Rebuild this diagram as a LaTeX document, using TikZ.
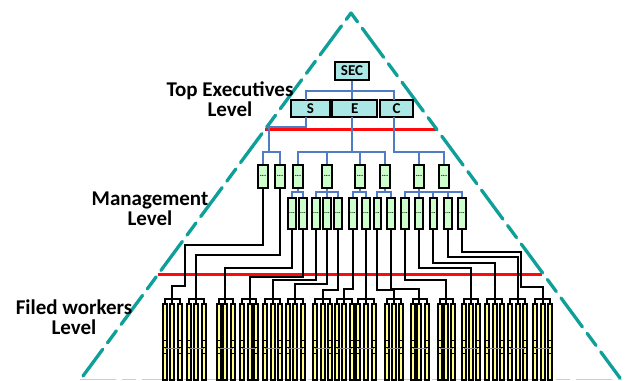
\documentclass[tikz,border=0pt]{standalone}
\usepackage{fontspec}
\setmainfont{Carlito}
\definecolor{tealline}{HTML}{0E9F98}
\definecolor{paleteal}{HTML}{A6DEDB}
\definecolor{bluelink}{HTML}{4F7CC4}
\definecolor{cyanbox}{HTML}{ABE8E5}
\definecolor{greenbox}{HTML}{CCFFCC}
\definecolor{yellowbar}{HTML}{FFFF88}
\definecolor{redline}{HTML}{FF0A0A}
\tikzset{
  x=1pt,y=-1pt,
  level label/.style={font=\fontsize{21}{20.5}\selectfont\bfseries,align=center,inner sep=0pt},
  exec box/.style={draw=black,line width=2pt,fill=cyanbox,inner sep=0pt,font=\fontsize{15}{15}\selectfont\bfseries},
  upper box/.style={draw=black,line width=2pt,fill=greenbox,inner sep=0pt,minimum height=23pt,font=\fontsize{8}{8}\selectfont\bfseries},
  lower box/.style={draw=black,line width=2pt,fill=greenbox,inner sep=0pt,minimum height=31pt,font=\fontsize{7}{7}\selectfont\bfseries},
  bar box/.style={draw=black,line width=1.9pt,fill=yellowbar,inner sep=0pt,minimum height=76pt},
  blue link/.style={draw=bluelink,line width=1.9pt},
  blue stem/.style={draw=bluelink,line width=2.3pt},
  black link/.style={draw=black,line width=1.9pt,line join=miter},
  bracket link/.style={draw=black,line width=1.4pt},
  red band/.style={draw=redline,line width=3pt},
  slope/.style={draw=tealline,line width=3.3pt,line cap=round},
}
\begin{document}
\begin{tikzpicture}
\useasboundingbox (0,0) rectangle (626,380);
% pyramid outline
\coordinate (apex) at (351,13);
\coordinate (bl) at (83,376);
\coordinate (br) at (620,378);
\draw[draw=paleteal,line width=1.5pt,dash pattern=on 36pt off 6pt on 14pt off 6pt] (80,379.3) -- (622,379.3);
% red separators
\coordinate (ra) at (265,129);
\coordinate (rb) at (436,129);
\coordinate (rc) at (157.5,274);
\coordinate (rd) at (542,274);
\draw[red band] (ra) -- (rb);
\draw[red band] (rc) -- (rd);
\draw[slope,dash pattern=on 36pt off 8pt on 15pt off 8pt,dash phase=51pt] (apex) -- (bl);
\draw[slope,dash pattern=on 36pt off 8pt on 15pt off 8pt,dash phase=48pt] (apex) -- (br);
% labels
\node[level label] (l1) at (230,99) {Top Executives\\Level};
\node[level label] (l2) at (150,209) {Management\\Level};
\node[level label] (l3) at (74,317) {Filed workers\\Level};
% executives
\node[exec box,minimum width=34pt,minimum height=18pt] (sec) at (352,71) {SEC};
\node[exec box,minimum width=39pt,minimum height=17pt] (s) at (310.5,108.5) {S};
\node[exec box,minimum width=44.5pt,minimum height=17pt] (e) at (354.7,108.5) {E};
\node[exec box,minimum width=33pt,minimum height=17pt] (c) at (396.5,108.5) {C};
% upper management
\foreach \n/\x in {1/263,2/280,3/298,4/327,5/360,6/385,7/419,8/444}
  \node[upper box,minimum width=10pt] (u\n) at (\x,176) {...};
% lower management
\foreach \n/\x/\w in {1/292/8,2/303/8,3/316/8,4/327/8,5/338/8,6/353/8,7/366/8,8/377/7,9/391/8,10/405/8,11/419/8,12/433/7,13/448/8,14/462/8}
  \node[lower box,minimum width=\w pt] (m\n) at (\x,213) {...};
% field workers
\foreach \g/\a/\b/\c in {1/165/172/180,2/189/196/204,3/219/225/233,4/242/250/256,5/265/273/280,6/288/295/303,7/315/323/330,8/337/344/352,9/358/366/374,10/387/394/401,11/413/419/427,12/440/446/453,13/464/471/478,14/487/495/502,15/510/518/525,16/535/543/550}{
  \node[bar box,minimum width=4pt] (w\g a) at (\a,342) {};
  \node[bar box,minimum width=4pt] (w\g b) at (\b,342) {};
  \node[bar box,minimum width=4pt] (w\g c) at (\c,342) {};
  \coordinate (h\g) at (\b,299);
  \draw[bracket link] (w\g a.north) -- (w\g a.north |- h\g) -- (w\g c.north |- h\g) -- (w\g c.north);
  \draw[bracket link] (h\g) -- (w\g b.north);
  \foreach \yy in {340,347,353}{
    \draw[black,line width=.8pt] (\a-1.5,\yy) -- (\a+1.5,\yy);
    \draw[black,line width=.8pt] (\c-1.5,\yy) -- (\c+1.5,\yy);
  }
  \draw[black!45,line width=.3pt] (\a,348) -- (\c,348);
}
% blue links, top
\coordinate (tb) at (0,91);
\draw[blue stem] (sec.south) -- (sec.south |- e.north);
\draw[blue link] (306,100) -- (306,91) -- (394,91) -- (394,100);
\coordinate (bb) at (0,152);
% S branch
\draw[blue link] (306,117) -- (306,127) -- (269,127) -- (269,152);
\draw[blue link] (u1.north) -- (u1.north |- bb) -- (u2.north |- bb) -- (u2.north);
% E branch
\draw[blue stem] (352,117) -- (352,152);
\draw[blue link] (u3.north) -- (u3.north |- bb) -- (u6.north |- bb) -- (u6.north);
\draw[blue link] (u4.north |- bb) -- (u4.north);
\draw[blue link] (u5.north |- bb) -- (u5.north);
% C branch
\draw[blue link] (394,117) -- (394,152) -- (u8.north |- bb) -- (u8.north);
\draw[blue link] (u7.north |- bb) -- (u7.north);
% blue links, management
\coordinate (mb) at (0,192);
\draw[blue link] (u3.south) -- (u3.south |- mb);
\draw[blue link] (m1.north) -- (m1.north |- mb) -- (m2.north |- mb) -- (m2.north);
\draw[blue link] (u4.south) -- (u4.south |- mb);
\draw[blue link] (m3.north) -- (m3.north |- mb) -- (m5.north |- mb) -- (m5.north);
\draw[blue link] (m4.north |- mb) -- (m4.north);
\draw[blue link] (u5.south) -- (u5.south |- mb);
\draw[blue link] (m6.north) -- (m6.north |- mb) -- (m7.north |- mb) -- (m7.north);
\draw[blue link] (u6.south) -- (u6.south |- mb);
\draw[blue link] (m8.north) -- (m8.north |- mb) -- (m9.north |- mb) -- (m9.north);
\draw[blue link] (u7.south) -- (u7.south |- mb);
\draw[blue link] (m10.north) -- (m10.north |- mb) -- (m14.north |- mb) -- (m14.north);
\draw[blue link] (m11.north |- mb) -- (m11.north);
\draw[blue link] (m12.north |- mb) -- (m12.north);
\draw[blue link] (m13.north |- mb) -- (m13.north);
% black feeds
\draw[black link] (u1.south) -- (263,245) -- (185,245) -- (185,286) -- (172,286) -- (h1);
\draw[black link] (u2.south) -- (280,255) -- (196,255) -- (h2);
\foreach \m/\g/\yy in {1/3/268,2/4/277,3/5/280,4/6/284,5/7/290,6/8/289,8/10/290,9/11/289,10/12/280,11/13/268,12/14/263,13/15/257}
  \draw[black link] (m\m.south) -- (m\m.south |- 0,\yy) -- (h\g |- 0,\yy) -- (h\g);
\draw[black link] (m7.south) -- (h9);
\draw[black link] (m14.south) -- (462,252) -- (521,252) -- (521,287) -- (543,287) -- (h16);
\end{tikzpicture}
\end{document}
